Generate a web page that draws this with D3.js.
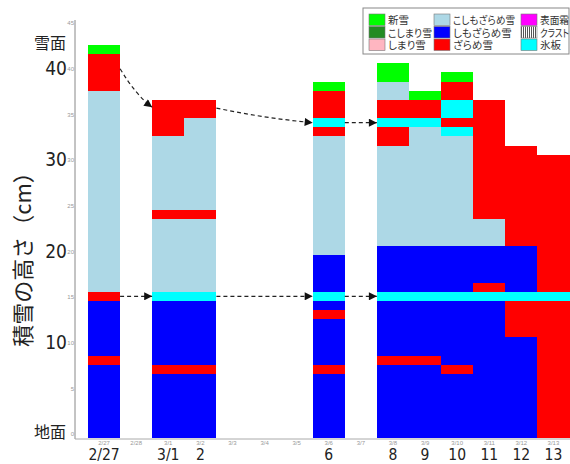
<!DOCTYPE html>
<html>
<head>
<meta charset="utf-8">
<script src="https://cdn.jsdelivr.net/npm/d3@7"></script>
<style>
body { margin: 0; background: #fff; }
text { font-family: "Noto Sans CJK JP", sans-serif; }
.num { font-family: "Liberation Sans Narrow", "DejaVu Sans Condensed", sans-serif; }
.leg { font-feature-settings: "palt"; }
</style>
</head>
<body>
<div id="chart-area"></div>
<script>
/*
*    snow pit profile
*/

// snow types
var typeNames = ["新雪", "こしまり雪", "しまり雪", "こしもざらめ雪", "しもざらめ雪", "ざらめ雪", "表面霜", "クラスト", "氷板"];
var typeColors = ["#00ff00", "#228b22", "#ffb6c1", "#add8e6", "#0000ff", "#ff0000", "#ff00ff", "url(#crust)", "#00ffff"];

var N = "新雪", K = "こしもざらめ雪", S = "しもざらめ雪", Z = "ざらめ雪", I = "氷板";

// x categories
var dates = ["2/27", "2/28", "3/1", "3/2", "3/3", "3/4", "3/5", "3/6", "3/7", "3/8", "3/9", "3/10", "3/11", "3/12", "3/13"];
var bigLabels = ["2/27", "", "3/1", "2", "", "", "", "6", "", "8", "9", "10", "11", "12", "13"];

// layers per day: [type, top of layer in cm], bottom = previous top
var p0227 = [[S, 8], [Z, 9], [S, 15], [Z, 16], [K, 38], [Z, 42], [N, 43]];
var p0301 = [[S, 7], [Z, 8], [S, 15], [I, 16], [K, 24], [Z, 25], [K, 33], [Z, 37]];
var p0302 = [[S, 7], [Z, 8], [S, 15], [I, 16], [K, 24], [Z, 25], [K, 35], [Z, 37]];
var p0306 = [[S, 7], [Z, 8], [S, 13], [Z, 14], [S, 15], [I, 16], [S, 20], [K, 33], [Z, 34], [I, 35], [Z, 38], [N, 39]];
var p0308 = [[S, 8], [Z, 9], [S, 15], [I, 16], [S, 21], [K, 32], [Z, 34], [I, 35], [Z, 37], [K, 39], [N, 41]];
var p0309 = [[S, 8], [Z, 9], [S, 15], [I, 16], [S, 21], [K, 34], [I, 35], [Z, 37], [N, 38]];
var p0310 = [[S, 7], [Z, 8], [S, 15], [I, 16], [S, 21], [K, 33], [I, 34], [Z, 35], [I, 37], [Z, 39], [N, 40]];
var p0311 = [[S, 15], [I, 16], [Z, 17], [S, 21], [K, 24], [Z, 37]];
var p0312 = [[S, 11], [Z, 15], [I, 16], [S, 21], [Z, 32]];
var p0313 = [[Z, 15], [I, 16], [Z, 31]];

var profileDates = ["2/27", "3/1", "3/2", "3/6", "3/8", "3/9", "3/10", "3/11", "3/12", "3/13"];
var profiles = [p0227, p0301, p0302, p0306, p0308, p0309, p0310, p0311, p0312, p0313];

// y ticks
var smallTicks = [0, 5, 10, 15, 20, 25, 30, 35, 40, 45];
var bigTicks = [40, 30, 20, 10];

// arrows: [from date, from cm, to date, to cm, curved]
var arrows = [
	["2/27", 15.5, "3/1", 15.5, false],
	["3/2", 15.5, "3/6", 15.5, false],
	["3/6", 15.5, "3/8", 15.5, false],
	["2/27", 40.4, "3/1", 36.2, true],
	["3/2", 36.1, "3/6", 34.5, true],
	["3/6", 34.5, "3/8", 34.5, false]
];

var width = 570;
var height = 464;

var svg = d3.select("#chart-area").append("svg")
	.attr("width", width)
	.attr("height", height);

var defs = svg.append("defs");

var crust = defs.append("pattern")
	.attr("id", "crust")
	.attr("patternUnits", "userSpaceOnUse")
	.attr("width", 2)
	.attr("height", 4);
crust.append("rect").attr("width", 2).attr("height", 4).attr("fill", "#fff");
crust.append("rect").attr("width", 1).attr("height", 4).attr("fill", "#555");

defs.append("marker")
	.attr("id", "arrowhead")
	.attr("viewBox", "0 0 10 10")
	.attr("refX", 10)
	.attr("refY", 5)
	.attr("markerUnits", "userSpaceOnUse")
	.attr("markerWidth", 9)
	.attr("markerHeight", 8)
	.attr("orient", "auto")
	.append("path")
	.attr("d", "M0,0 L10,5 L0,10 Z")
	.attr("fill", "#111");

// Scales
var x = d3.scaleBand()
	.domain(dates)
	.range([88, 569.5])
	.padding(0);

var y = d3.scaleLinear()
	.domain([0, 45])
	.range([438, 26.7]);

var color = d3.scaleOrdinal()
	.domain(typeNames)
	.range(typeColors);

// Bars
profileDates.forEach((date, i) => {
	var bottom = 0;
	var rows = profiles[i].map((d) => {
		var r = { type: d[0], y0: bottom, y1: d[1] };
		bottom = d[1];
		return r;
	});

	svg.append("g").selectAll("rect")
		.data(rows)
		.enter().append("rect")
		.attr("x", x(date))
		.attr("width", x.bandwidth())
		.attr("y", (d) => y(d.y1))
		.attr("height", (d) => y(d.y0) - y(d.y1))
		.attr("fill", (d) => color(d.type))
		.attr("shape-rendering", "crispEdges");
});

// Axis lines
svg.append("line")
	.attr("x1", 75).attr("x2", 75)
	.attr("y1", 20).attr("y2", y(0) + 1)
	.attr("stroke", "#888");

svg.append("line")
	.attr("x1", 75).attr("x2", 570)
	.attr("y1", y(0) + 1).attr("y2", y(0) + 1)
	.attr("stroke", "#aaa");

// small y tick labels
var yAxisCall = d3.axisLeft(y)
	.tickValues(smallTicks)
	.tickSize(0)
	.tickPadding(1);

var yAxisGroup = svg.append("g")
	.attr("transform", "translate(75, -4)")
	.call(yAxisCall);
yAxisGroup.select(".domain").remove();
yAxisGroup.selectAll("text")
	.style("font-size", "6px")
	.style("font-family", "Liberation Sans Narrow, sans-serif")
	.attr("fill", "#999");

// small x tick labels
var xAxisCall = d3.axisBottom(x)
	.tickSize(0)
	.tickPadding(2);

var xAxisGroup = svg.append("g")
	.attr("transform", "translate(0, " + (y(0) + 1) + ")")
	.call(xAxisCall);
xAxisGroup.select(".domain").remove();
xAxisGroup.selectAll("text")
	.style("font-size", "6px")
	.style("font-family", "Liberation Sans Narrow, sans-serif")
	.attr("fill", "#999");

// big x labels
svg.append("g").selectAll("text")
	.data(dates)
	.enter().append("text")
	.attr("class", "num")
	.attr("x", (d) => x(d) + x.bandwidth() / 2)
	.attr("y", 460)
	.attr("text-anchor", "middle")
	.style("font-size", "15.5px")
	.attr("fill", "#222")
	.text((d, i) => bigLabels[i]);

// big y labels
svg.append("g").selectAll("text")
	.data(bigTicks)
	.enter().append("text")
	.attr("class", "num")
	.attr("x", 67)
	.attr("y", (d) => y(d) + 2.5)
	.attr("text-anchor", "end")
	.style("font-size", "19px")
	.attr("fill", "#222")
	.text((d) => d);

svg.append("text")
	.attr("x", 66)
	.attr("y", y(43.2) + 6)
	.attr("text-anchor", "end")
	.style("font-size", "16px")
	.attr("fill", "#222")
	.text("雪面");

svg.append("text")
	.attr("x", 66)
	.attr("y", y(0.7) + 6)
	.attr("text-anchor", "end")
	.style("font-size", "16px")
	.attr("fill", "#222")
	.text("地面");

// y label
svg.append("text")
	.attr("transform", "rotate(-90)")
	.attr("x", -254)
	.attr("y", 31)
	.attr("text-anchor", "middle")
	.style("font-size", "22px")
	.attr("fill", "#222")
	.text("積雪の高さ（cm）");

// arrows
arrows.forEach((a) => {
	var x0 = x(a[0]) + x.bandwidth();
	var y0 = y(a[1]);
	var x1 = x(a[2]);
	var y1 = y(a[3]);
	var p = d3.path();
	p.moveTo(x0, y0);
	if (a[4]) {
		p.quadraticCurveTo(x0 + 0.5 * (x1 - x0), y0 + 0.7 * (y1 - y0), x1, y1);
	} else {
		p.lineTo(x1, y1);
	}
	svg.append("path")
		.attr("d", p.toString())
		.attr("fill", "none")
		.attr("stroke", "#222")
		.attr("stroke-width", 1.2)
		.attr("stroke-dasharray", "4,3")
		.attr("marker-end", "url(#arrowhead)");
});

// legend
var legend = svg.append("g")
	.attr("transform", "translate(363, 8)");

legend.append("rect")
	.attr("width", 206)
	.attr("height", 46)
	.attr("fill", "#fff")
	.attr("stroke", "#888");

var colX = [6, 71, 158];
var colMax = [44, 62, 29];

typeNames.forEach((name, i) => {
	var col = Math.floor(i / 3);
	var legendRow = legend.append("g")
		.attr("transform", "translate(" + colX[col] + ", " + (6 + (i % 3) * 12.5) + ")");

	legendRow.append("rect")
		.attr("width", 16)
		.attr("height", 11.5)
		.attr("fill", color(name))
		.attr("stroke", "#777")
		.attr("stroke-width", 0.6);

	var t = legendRow.append("text")
		.attr("class", "leg")
		.attr("x", 19)
		.attr("y", 10)
		.style("font-size", "10.5px")
		.attr("fill", "#333")
		.text(name);

	// squeeze text that is wider than its column
	if (t.node().getComputedTextLength() > colMax[col]) {
		t.attr("textLength", colMax[col])
			.attr("lengthAdjust", "spacingAndGlyphs");
	}
});
</script>
</body>
</html>
